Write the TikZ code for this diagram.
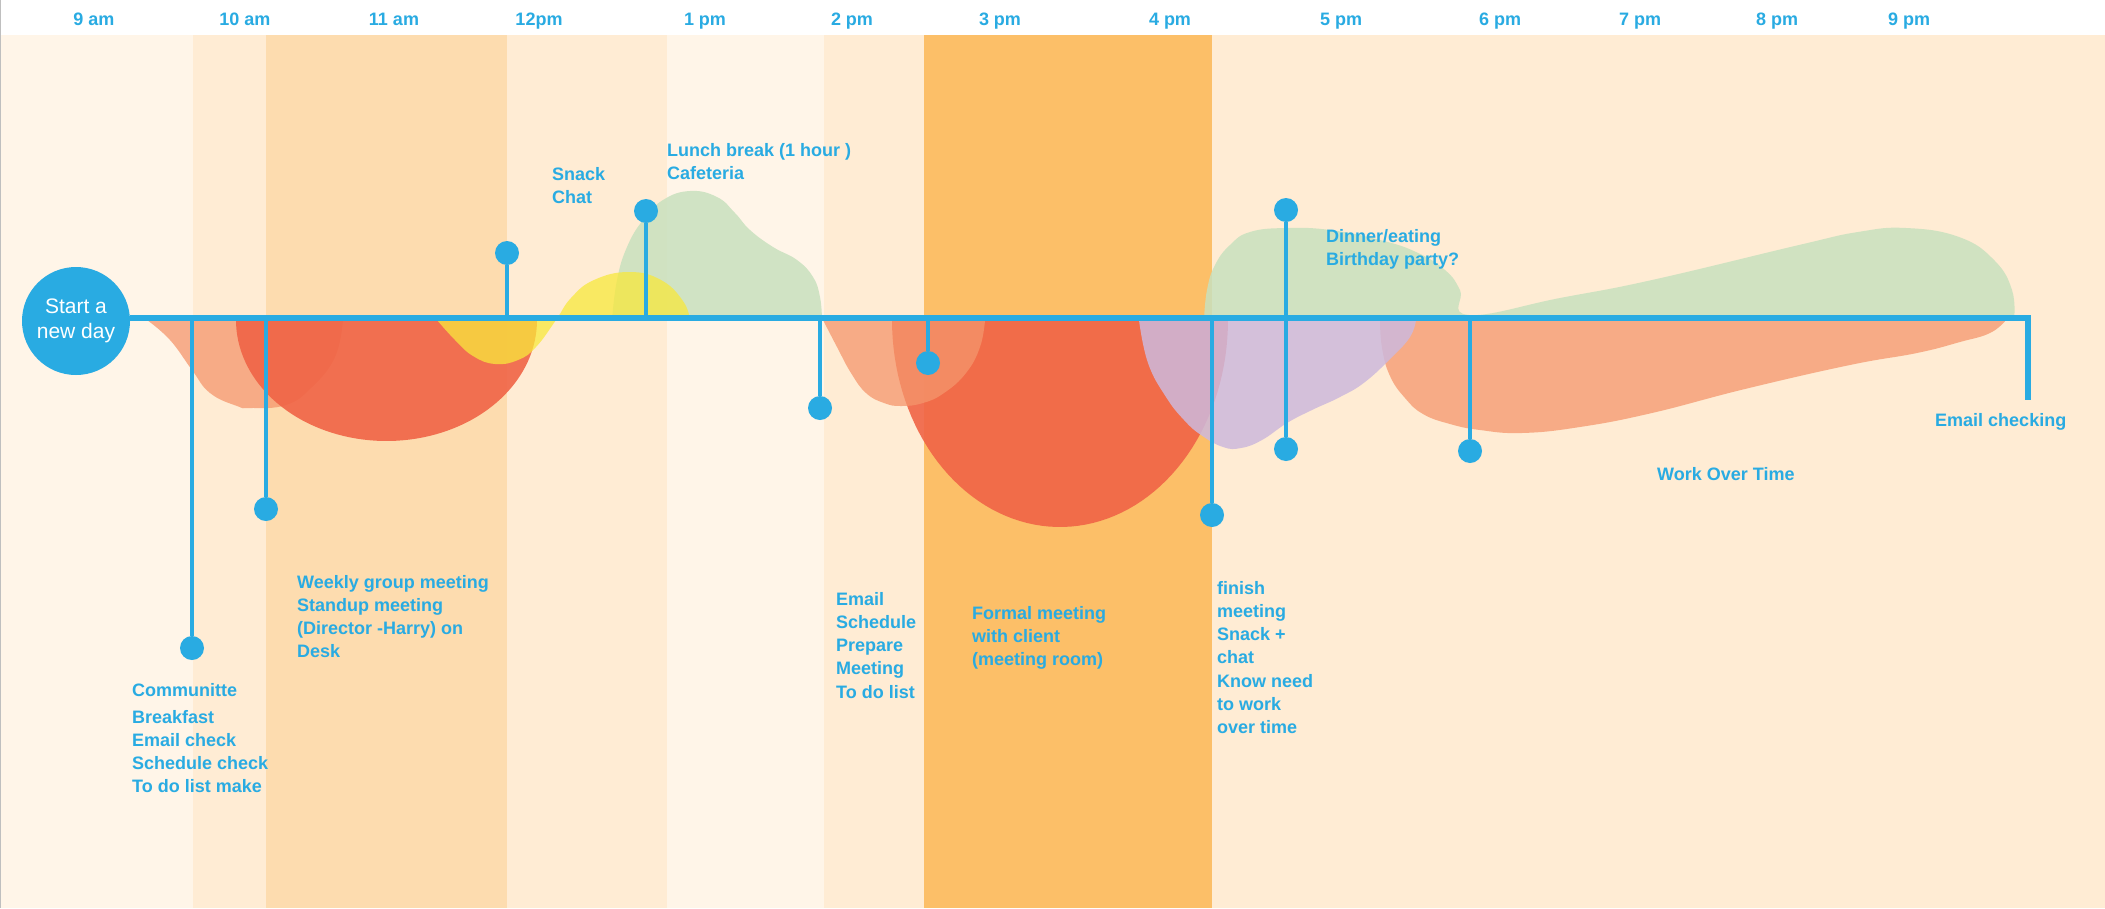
\documentclass[tikz,border=0pt]{standalone}
\usepackage{fontspec}
\setmainfont{Liberation Sans}

\definecolor{dayblue}{HTML}{29ABE2}
\definecolor{bandpale}{HTML}{FFF5E8}
\definecolor{bandlight}{HTML}{FFECD4}
\definecolor{bandmid}{HTML}{FDDCAF}
\definecolor{bandhot}{HTML}{FCBF68}
\definecolor{blobpeach}{RGB}{245,150,108}
\definecolor{blobred}{RGB}{240,100,70}
\definecolor{blobyellow}{RGB}{248,232,60}
\definecolor{blobgreen}{RGB}{200,225,190}
\definecolor{blobpurple}{RGB}{205,185,220}

\tikzset{
  timeline/.style={draw=dayblue, line width=6pt},
  stem/.style={draw=dayblue, line width=4.5pt},
  pindot/.style={circle, fill=dayblue, inner sep=0pt, minimum size=24pt},
  tasktext/.style={anchor=north west, align=left, inner sep=0pt, text=dayblue, font={\bfseries\fontsize{18}{23.2}\selectfont}},
  hourtext/.style={anchor=base, inner sep=0pt, text=dayblue, font={\bfseries\fontsize{18}{20}\selectfont}},
  blob/.style={smooth, tension=.75}
}

\def \lineY{318}
\def \bandTop{35}

\begin{document}
\begin{tikzpicture}[x=1pt, y=-1pt]
\useasboundingbox (0,0) rectangle (2105,908);

% ---- Hour bands
\fill[white] (0,0) rectangle (2105,\bandTop);
\fill[bandpale] (0,\bandTop) rectangle (193,908);
\fill[bandlight] (193,\bandTop) rectangle (266,908);
\fill[bandmid] (266,\bandTop) rectangle (507,908);
\fill[bandlight] (507,\bandTop) rectangle (667,908);
\fill[bandpale] (667,\bandTop) rectangle (824,908);
\fill[bandlight] (824,\bandTop) rectangle (924,908);
\fill[bandhot] (924,\bandTop) rectangle (1212,908);
\fill[bandlight] (1212,\bandTop) rectangle (2105,908);
\draw[gray!50, line width=1pt] (0.5,0) -- (0.5,908);

% ---- Mood blobs
% ---- Morning
\fill[blobpeach, fill opacity=.75] plot[blob] coordinates {(147,320) (170,340) (192,370) (210,393) (237,406) (250,408) (286,405) (312,387) (335,357) (343,320)} -- cycle;
\fill[blobred, fill opacity=.9] plot[domain=180:360, samples=72] ({386.5+150.5*cos(\x)}, {320-121*sin(\x)}) -- cycle;
% ---- Lunch
\fill[blobgreen, fill opacity=.85] plot[blob] coordinates {(612,320) (617,280) (627,247) (643,220) (663,200) (690,191) (717,197) (735,213) (750,230) (773,247) (797,260) (813,277) (820,297) (822,320)} -- cycle;
\fill[blobyellow, fill opacity=.75] plot[blob] coordinates {(437,320) (455,340) (473,356) (495,364) (518,360) (536,347) (556,320) (571,298) (594,280) (629,272) (661,280) (683,301) (690,320)} -- cycle;
% ---- Afternoon
\fill[blobred, fill opacity=.9] plot[domain=180:360, samples=72] ({1060+168*cos(\x)}, {320-207*sin(\x)}) -- cycle;
\fill[blobpeach, fill opacity=.75] plot[blob] coordinates {(823,320) (837,347) (851,373) (866,393) (884,403) (901,406) (923,403) (944,393) (966,373) (980,347) (985,320)} -- cycle;
% ---- Evening
\fill[blobpeach, fill opacity=.75] plot[blob] coordinates {(1380,320) (1382,348) (1390,376) (1405,398) (1423,414) (1450,424) (1480,430) (1522,433) (1580,427) (1652,413) (1745,389) (1850,365) (1917,353) (1960,342) (1990,333) (2006,320)} -- cycle;
\fill[blobpurple, fill opacity=.85] plot[blob] coordinates {(1139,320) (1148,363) (1166,397) (1184,420) (1201,435) (1223,447) (1241,448) (1262,440) (1287,423) (1312,410) (1340,397) (1365,382) (1392,357) (1410,337) (1416,320)} -- cycle;
\fill[blobgreen, fill opacity=.85] plot[blob] coordinates {(1204,320) (1207,290) (1215,265) (1230,245) (1250,232) (1286,228) (1330,230) (1380,240) (1416,252) (1445,270) (1460,290) (1469,315) (1560,298) (1652,280) (1799,245) (1858,232) (1906,228) (1959,237) (1994,260) (2012,290) (2014,320)} -- cycle;

% ---- Start circle and timeline
\node[circle, fill=dayblue, minimum size=108pt, inner sep=0pt, align=center, text=white, font={\fontsize{21}{25}\selectfont}] (start) at (76,321) {Start a\\new day};
\coordinate (tlend) at (2028,\lineY);
\coordinate (mailend) at (2028,400);
\draw[timeline] (start.east |- tlend) -- (tlend) -- (mailend);

% ---- Pin dots
\node[pindot] (dotComm) at (192,648) {};
\node[pindot] (dotWeekly) at (266,509) {};
\node[pindot] (dotSnack) at (507,253) {};
\node[pindot] (dotLunch) at (646,211) {};
\node[pindot] (dotEmail) at (820,408) {};
\node[pindot] (dotFormal) at (928,363) {};
\node[pindot] (dotFinish) at (1212,515) {};
\node[pindot] (dotDinnerA) at (1286,210) {};
\node[pindot] (dotDinnerB) at (1286,449) {};
\node[pindot] (dotOver) at (1470,451) {};

% ---- Pin stems
\draw[stem] (dotComm |- tlend) -- (dotComm);
\draw[stem] (dotWeekly |- tlend) -- (dotWeekly);
\draw[stem] (dotSnack |- tlend) -- (dotSnack);
\draw[stem] (dotLunch |- tlend) -- (dotLunch);
\draw[stem] (dotEmail |- tlend) -- (dotEmail);
\draw[stem] (dotFormal |- tlend) -- (dotFormal);
\draw[stem] (dotFinish |- tlend) -- (dotFinish);
\draw[stem] (dotDinnerA) -- (dotDinnerB);
\draw[stem] (dotOver |- tlend) -- (dotOver);

% ---- Task texts
\node[tasktext] (commText) at (132,683) {Communitte\\[3.8pt]Breakfast\\Email check\\Schedule check\\To do list make};
\node[tasktext] (weeklyText) at (297,575) {Weekly group meeting\\Standup meeting\\(Director -Harry) on\\Desk};
\node[tasktext] (snackText) at (552,167) {Snack\\Chat};
\node[tasktext] (lunchText) at (667,143) {Lunch break (1 hour )\\Cafeteria};
\node[tasktext] (emailText) at (836,592) {Email\\Schedule\\Prepare\\Meeting\\To do list};
\node[tasktext] (formalText) at (972,606) {Formal meeting\\with client\\(meeting room)};
\node[tasktext] (finishText) at (1217,581) {finish\\meeting\\Snack +\\chat\\Know need\\to work\\over time};
\node[tasktext] (dinnerText) at (1326,229) {Dinner/eating\\Birthday party?};
\node[tasktext] (mailText) at (1935,413) {Email checking};
\node[tasktext] (overText) at (1657,467) {Work Over Time};

% ---- Hour texts
\node[hourtext] (hourNineAm) at (94,25) {9 am};
\node[hourtext] (hourTen) at (245,25) {10 am};
\node[hourtext] (hourEleven) at (394,25) {11 am};
\node[hourtext] (hourTwelve) at (539,25) {12pm};
\node[hourtext] (hourOne) at (705,25) {1 pm};
\node[hourtext] (hourTwo) at (852,25) {2 pm};
\node[hourtext] (hourThree) at (1000,25) {3 pm};
\node[hourtext] (hourFour) at (1170,25) {4 pm};
\node[hourtext] (hourFive) at (1341,25) {5 pm};
\node[hourtext] (hourSix) at (1500,25) {6 pm};
\node[hourtext] (hourSeven) at (1640,25) {7 pm};
\node[hourtext] (hourEight) at (1777,25) {8 pm};
\node[hourtext] (hourNinePm) at (1909,25) {9 pm};
\end{tikzpicture}
\end{document}
